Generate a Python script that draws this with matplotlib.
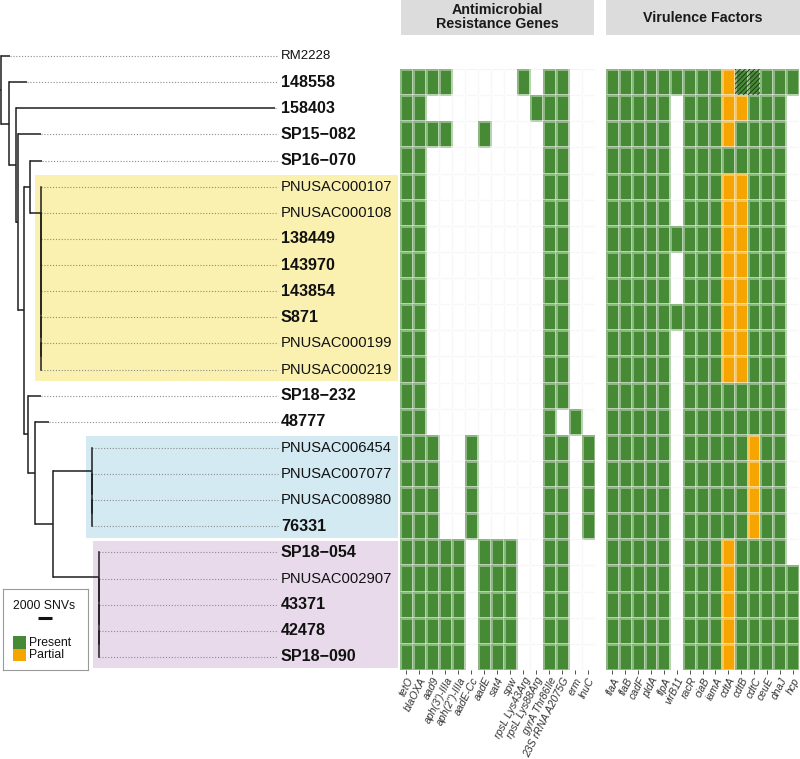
import matplotlib
matplotlib.use("Agg")
import matplotlib.pyplot as plt
import numpy as np
from matplotlib.colors import ListedColormap, BoundaryNorm
from matplotlib.patches import Rectangle

plt.rcParams['font.family'] = ['Liberation Sans', 'DejaVu Sans']
plt.rcParams['hatch.linewidth'] = 0.6

# tree, branch lengths in SNVs
TREE = ("(RM2228:1290,(148558:2570,(158403:37100,(SP15-082:3300,"
        "((SP16-070:1700,(PNUSAC000107:0,(PNUSAC000108:0,(138449:0,(143970:0,"
        "(143854:0,(S871:0,(PNUSAC000199:0,PNUSAC000219:0):0):0):0):0):0):0):1570):860,"
        "(SP18-232:1860,(48777:2000,((PNUSAC006454:0,(PNUSAC007077:0,(PNUSAC008980:0,76331:0):0):0):5570,"
        "(SP18-054:0,(PNUSAC002907:0,(43371:0,(42478:0,SP18-090:0):0):0):0):6570):2570):1000):570):860):290):1000):1150);")

bold_tips = ['148558', '158403', 'SP15-082', 'SP16-070', '138449', '143970', '143854',
             'S871', 'SP18-232', '48777', '76331', 'SP18-054', '43371', '42478', 'SP18-090']
outgroup = 'RM2228'

highlights = [('PNUSAC000107', 'PNUSAC000219', '#FAF0AF'),
              ('PNUSAC006454', '76331', '#D4EAF3'),
              ('SP18-054', 'SP18-090', '#E8DAEB')]

amr_genes = ['tetO', 'blaOXA', 'aad9', "aph(3')-IIIa", "aph(2'')-IIIa", 'aadE-Cc', 'aadE',
             'sat4', 'spw', 'rpsL Lys43Arg', 'rpsL Lys88Arg', 'gyrA Thr86Ile',
             '23S rRNA A2075G', 'erm', 'lnuC']
vf_genes = ['flaA', 'flaB', 'cadF', 'pldA', 'flpA', 'virB11', 'racR', 'ciaB', 'iamA',
            'cdtA', 'cdtB', 'cdtC', 'ceuE', 'dnaJ', 'hcp']

# 0 absent, 1 present, 2 partial, 3 present (hatched)
heat_strains = ['148558', '158403', 'SP15-082', 'SP16-070', 'PNUSAC000107', 'PNUSAC000108',
                '138449', '143970', '143854', 'S871', 'PNUSAC000199', 'PNUSAC000219',
                'SP18-232', '48777', 'PNUSAC006454', 'PNUSAC007077', 'PNUSAC008980', '76331',
                'SP18-054', 'PNUSAC002907', '43371', '42478', 'SP18-090']
amr = ['111100000101100', '110000000011100', '111100100001100', '110000000001100',
       '110000000001100', '110000000001100', '110000000001100', '110000000001100',
       '110000000001100', '110000000001100', '110000000001100', '110000000001100',
       '110000000001100', '110000000001010', '111001000001101', '111001000001101',
       '111001000001101', '111001000001101', '111110111001100', '111110111001100',
       '111110111001100', '111110111001100', '111110111001100']
vf = ['111111111233111', '111110111221110', '111110111211110', '111110111111110',
      '111110111221110', '111110111221110', '111111111221110', '111110111221110',
      '111110111221110', '111111111221110', '111110111221110', '111110111221110',
      '111110111111110', '111110111111110', '111110111112110', '111110111112110',
      '111110111112110', '111110111112110', '111110111211110', '111110111211111',
      '111110111211111', '111110111211111', '111110111211111']

GREEN = '#478A36'
ORANGE = '#F5A400'
W, H = 800, 759
ROW = 26.13          # px per tree row
SNV_PX = 143.0       # SNVs per px


def parse_newick(s):
    pos = 0

    def node():
        nonlocal pos
        kids = []
        if s[pos] == '(':
            pos += 1
            while True:
                kids.append(node())
                if s[pos] == ',':
                    pos += 1
                    continue
                pos += 1
                break
        st = pos
        while s[pos] not in ':,();':
            pos += 1
        name = s[st:pos]
        length = 0.0
        if s[pos] == ':':
            pos += 1
            st = pos
            while s[pos] not in ',();':
                pos += 1
            length = float(s[st:pos])
        return {'name': name, 'len': length, 'kids': kids}

    return node()


def layout(nd, x0, leaves):
    nd['x'] = x0 + nd['len']
    if not nd['kids']:
        nd['y'] = float(len(leaves))
        leaves.append(nd)
    else:
        for k in nd['kids']:
            layout(k, nd['x'], leaves)
        nd['y'] = np.mean([k['y'] for k in nd['kids']])


def draw_tree(ax, nd, px):
    lc = '#1E1E1E'
    ax.plot([px, nd['x']], [nd['y'], nd['y']], color=lc, lw=1.1, solid_capstyle='butt')
    if nd['kids']:
        ys = [k['y'] for k in nd['kids']]
        ax.plot([nd['x'], nd['x']], [min(ys), max(ys)], color=lc, lw=1.1, solid_capstyle='projecting')
        for k in nd['kids']:
            draw_tree(ax, k, nd['x'])


def px_axes(x0, y0, w, h):
    return fig.add_axes([x0 / W, 1 - (y0 + h) / H, w / W, h / H])


root = parse_newick(TREE)
root['len'] = 0.0
leaves = []
layout(root, 0.0, leaves)
leaf_y = {lf['name']: lf['y'] for lf in leaves}
leaf_x = {lf['name']: lf['x'] for lf in leaves}

fig = plt.figure(figsize=(W / 100, H / 100), dpi=100)

# ---- tree panel
tax = px_axes(0, 0, 398, 670)
tax.set_xlim(-SNV_PX, 397 * SNV_PX)
tax.set_ylim(23.5, -56 / ROW)
tax.axis('off')

xmax = 397 * SNV_PX
for first, last, col in highlights:
    y0, y1 = leaf_y[first] - 0.5 + 0.06, leaf_y[last] + 0.5 - 0.06
    left = leaf_x[first] - 6 * SNV_PX
    tax.add_patch(Rectangle((left, y0), xmax - left, y1 - y0, facecolor=col,
                            edgecolor='none', zorder=0))

label_x = 280 * SNV_PX
dot_end = 277 * SNV_PX
for lf in leaves:
    if lf['x'] < dot_end - 2 * SNV_PX:
        tax.plot([lf['x'], dot_end], [lf['y'], lf['y']], color='#8C8C8C', lw=0.8,
                 linestyle=(0, (1, 1.6)), zorder=1)
    b = lf['name'] in bold_tips
    size = 11.6 if b else (9.5 if lf['name'] == outgroup else 10.6)
    tax.text(label_x, lf['y'], lf['name'].replace('-', '\u2212'), ha='left', va='center',
             fontsize=size, fontweight='bold' if b else 'normal', color='#111111')

draw_tree(tax, root, root['x'] - SNV_PX)

# ---- heatmaps
cmap = ListedColormap([GREEN, ORANGE, GREEN])
cmap.set_bad((1, 1, 1, 0))
norm = BoundaryNorm([0.5, 1.5, 2.5, 3.5], 3)


def heatmap(ax, rows, genes):
    M = np.array([[int(c) for c in r] for r in rows])
    ys = np.array([leaf_y[s] for s in heat_strains])
    yedges = np.append(ys - 0.5, ys[-1] + 0.5)
    xedges = np.arange(len(genes) + 1)
    # light grid behind empty cells
    ax.vlines(xedges, yedges[0], yedges[-1], color='#ECECEC', lw=0.8, zorder=0)
    ax.hlines(yedges, xedges[0], xedges[-1], color='#ECECEC', lw=0.8, zorder=0)
    ax.pcolormesh(xedges, yedges, np.ma.masked_equal(M, 0), cmap=cmap, norm=norm,
                  edgecolors=(1, 1, 1, 0.38), linewidth=0.8, zorder=1)
    for i, j in zip(*np.where(M == 3)):
        ax.add_patch(Rectangle((j, ys[i] - 0.5), 1, 1, facecolor='none',
                               edgecolor='#1B2E14', hatch='///////', lw=0, zorder=2))
    ax.set_xlim(0, len(genes))
    ax.set_ylim(ys[-1] + 0.5, ys[0] - 0.5)
    ax.set_yticks([])
    ax.set_xticks(np.arange(len(genes)) + 0.5)
    ax.set_xticklabels(genes, rotation=63, ha='right', va='top', rotation_mode='anchor',
                       fontsize=7.6, style='italic', color='#333333')
    ax.tick_params(axis='x', length=3, width=0.6, color='#333333', pad=1.2)
    for sp in ax.spines.values():
        sp.set_visible(False)


aax = px_axes(400, 69, 194.5, 601)
heatmap(aax, amr, amr_genes)
vax = px_axes(606, 69, 193, 601)
heatmap(vax, vf, vf_genes)

# ---- facet strips
for x0, w, title in [(401, 193, 'Antimicrobial\nResistance Genes'), (606, 194, 'Virulence Factors')]:
    sax = px_axes(x0, 0, w, 35)
    sax.set_facecolor('#DCDCDC')
    sax.set_xticks([])
    sax.set_yticks([])
    for sp in sax.spines.values():
        sp.set_visible(False)
    sax.text(0.5, 0.5, title, ha='center', va='center', fontsize=10.3, fontweight='bold',
             color='#1A1A1A', linespacing=1.0, transform=sax.transAxes)

# ---- legend box
lax = px_axes(3, 589, 85, 81)
lax.set_xlim(0, 85)
lax.set_ylim(81, 0)
lax.set_facecolor('white')
lax.set_xticks([])
lax.set_yticks([])
for sp in lax.spines.values():
    sp.set_color('#9A9A9A')
    sp.set_linewidth(0.8)
lax.text(41, 17, '2000 SNVs', ha='center', va='center', fontsize=8.8, color='#111111')
half = 1000 / SNV_PX
lax.plot([42 - half, 42 + half], [28.5, 28.5], color='#111111', lw=2.2, solid_capstyle='butt')
lax.add_patch(Rectangle((10.3, 47), 12.7, 13, facecolor=GREEN, edgecolor='none'))
lax.add_patch(Rectangle((10.3, 60), 12.7, 12, facecolor=ORANGE, edgecolor='none'))
lax.text(26, 53.5, 'Present', ha='left', va='center', fontsize=8.8, color='#111111')
lax.text(26, 66, 'Partial', ha='left', va='center', fontsize=8.8, color='#111111')

fig.savefig('out.png', dpi=100)
